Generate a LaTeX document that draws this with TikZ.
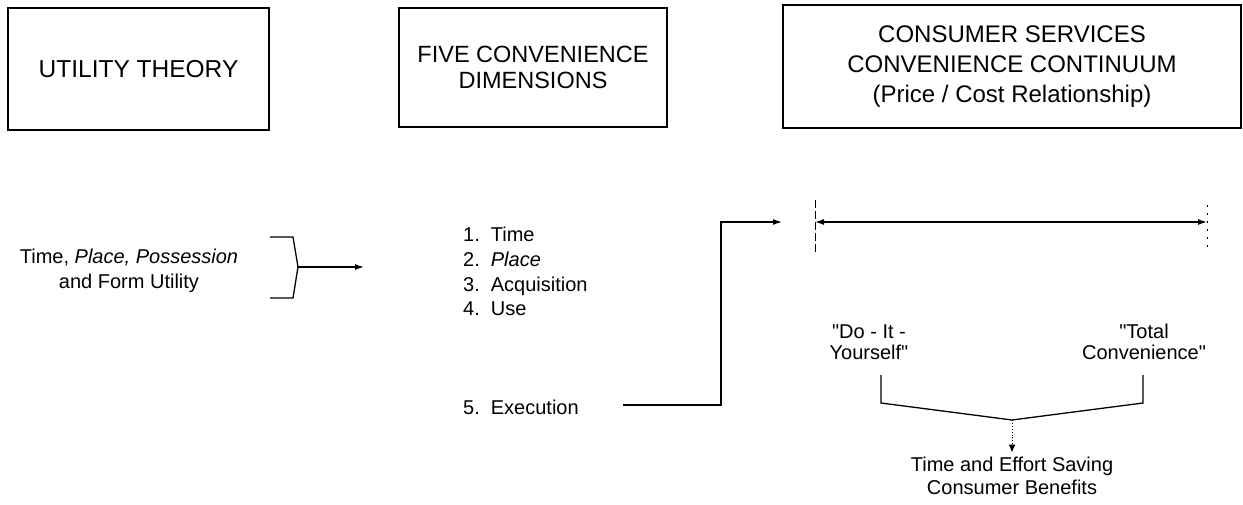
\documentclass[tikz,border=0pt]{standalone}
\usepackage{fontspec}
\setmainfont{Liberation Sans}
\newfontfamily\straightq{Liberation Sans}[Ligatures=TeXOff]
\usetikzlibrary{arrows.meta}

\newcommand{\sq}{{\straightq"}}

\tikzset{
  titlebox/.style={draw, line width=1.3pt, align=center, font=\fontsize{24.5}{30}\selectfont},
  caption/.style={align=center, inner sep=0pt, font=\fontsize{20}{25}\selectfont},
  listitem/.style={anchor=base west, inner sep=0pt, font=\fontsize{20}{24}\selectfont},
  link/.style={line width=1.3pt},
  arr/.style={link, -{Latex[length=9pt,width=6pt]}},
  tick/.style={line width=0.9pt}
}

\begin{document}
\begin{tikzpicture}[x=1pt,y=-1pt]
\useasboundingbox (0,0) rectangle (1243,505);

\node[titlebox, minimum width=261pt, minimum height=122pt] (utility) at (138.5,69) {UTILITY THEORY};
\node[titlebox, minimum width=268pt, minimum height=119pt, font=\fontsize{23.5}{26}\selectfont] (dimensions) at (533,67.5) {FIVE CONVENIENCE\\DIMENSIONS};
\node[titlebox, minimum width=458pt, minimum height=123pt, font=\fontsize{24}{30}\selectfont] (continuum) at (1012,66.5) {CONSUMER SERVICES\\CONVENIENCE CONTINUUM\\(Price / Cost Relationship)};

\node[caption] (utilities) at (129,271) {Time, \textit{Place, Possession}\\and Form Utility};
\coordinate (bt1) at (270,237);
\coordinate (bt2) at (293,237);
\coordinate (bb1) at (270,298);
\coordinate (bb2) at (293,298);
\coordinate (bm) at (298,267);
\coordinate (utiltip) at (364,267);
\draw[link] (bt1) -- (bt2) -- (bm) -- (bb2) -- (bb1);
\draw[arr] (bm) -- (utiltip);

\node[listitem] (time) at (463,242) {1.\hspace{0.55em}Time};
\node[listitem] (place) at (463,266.5) {2.\hspace{0.55em}\textit{Place}};
\node[listitem] (acq) at (463,291) {3.\hspace{0.55em}Acquisition};
\node[listitem] (use) at (463,315.5) {4.\hspace{0.55em}Use};
\node[listitem] (exec) at (463,414) {5.\hspace{0.55em}Execution};

\coordinate (exstart) at (623,405);
\coordinate (exbend) at (721,222);
\coordinate (extip) at (782,222);
\draw[arr] (exstart) -| (exbend) -- (extip);

\coordinate (cl) at (815,222);
\coordinate (cr) at (1207,222);
\draw[tick, dash pattern=on 8pt off 3pt] (815,200) -- (815,252);
\draw[tick, dash pattern=on 2pt off 6pt] (1207,205) -- (1207,252);
\draw[link, {Latex[length=9pt,width=6pt]}-{Latex[length=9pt,width=6pt]}] (cl) -- (cr);

\node[caption, font=\fontsize{20}{21}\selectfont] (diy) at (869,342) {\sq Do - It -\\Yourself\sq};
\node[caption, font=\fontsize{20}{21}\selectfont] (total) at (1144,342) {\sq Total\\Convenience\sq};

\coordinate (vl) at (881,375);
\coordinate (vlb) at (881,403);
\coordinate (vr) at (1143,375);
\coordinate (vrb) at (1143,403);
\coordinate (apex) at (1012,420);
\draw[link] (vl) -- (vlb) -- (apex) -- (vrb) -- (vr);

\node[caption, anchor=north, font=\fontsize{20}{23}\selectfont] (benefits) at (1012,456.5) {Time and Effort Saving\\Consumer Benefits};
\draw[tick, dotted, -{Latex[length=8pt,width=7pt]}, shorten >=4pt] (apex) -- (benefits.north);
\end{tikzpicture}
\end{document}
